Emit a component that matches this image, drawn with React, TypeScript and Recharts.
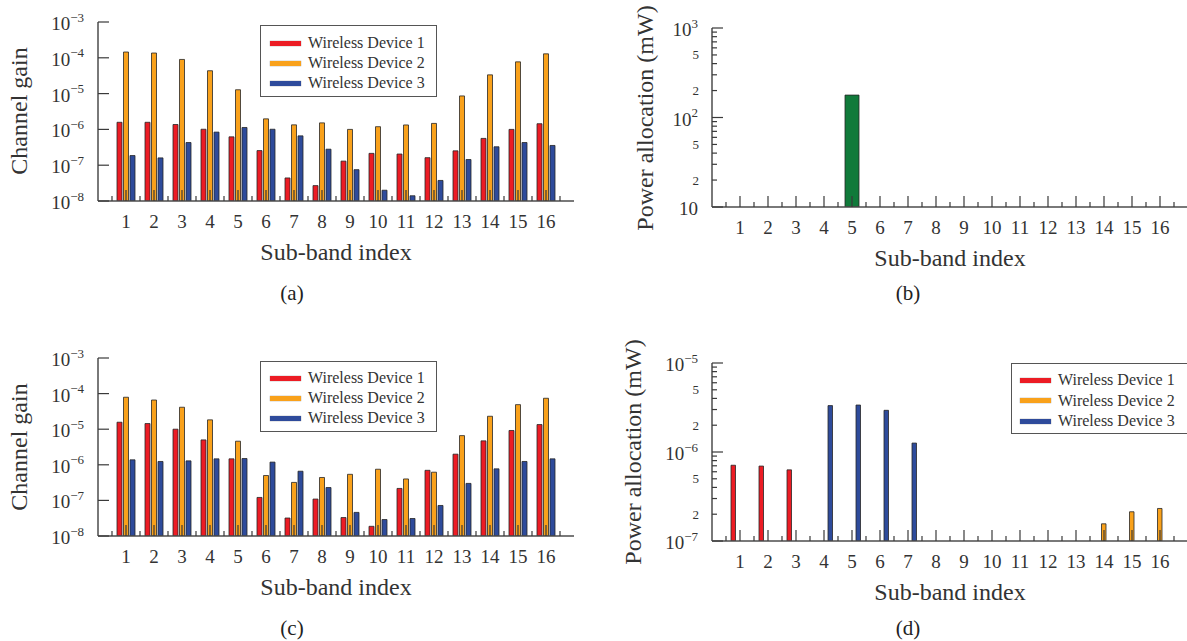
import React from 'react';
import { BarChart, Bar, XAxis, YAxis, Legend } from 'recharts';

const FONT = '"Liberation Serif", "Times New Roman", serif';
const INK = '#333333';
const AXIS = '#4d4d4d';
const TICK = '#3a3a3a';

const RED = '#ec1c24';
const ORANGE = '#f9a11b';
const BLUE = '#2e4b9b';
const GREEN = '#107a3a';

const bands = ['1', '2', '3', '4', '5', '6', '7', '8', '9', '10', '11', '12', '13', '14', '15', '16'];
const deviceNames = ['Wireless Device 1', 'Wireless Device 2', 'Wireless Device 3'];

// (a) channel gain
const gainA1 = [1.58e-6, 1.58e-6, 1.37e-6, 1.01e-6, 6.2e-7, 2.56e-7, 4.4e-8, 2.69e-8, 1.3e-7, 2.14e-7, 2.05e-7, 1.62e-7, 2.52e-7, 5.6e-7, 1.0e-6, 1.44e-6];
const gainA2 = [1.45e-4, 1.36e-4, 9.0e-5, 4.35e-5, 1.28e-5, 1.97e-6, 1.34e-6, 1.52e-6, 1.0e-6, 1.19e-6, 1.33e-6, 1.47e-6, 8.6e-6, 3.34e-5, 7.7e-5, 1.29e-4];
const gainA3 = [1.86e-7, 1.6e-7, 4.3e-7, 8.4e-7, 1.13e-6, 1.01e-6, 6.6e-7, 2.8e-7, 7.5e-8, 2.0e-8, 1.4e-8, 3.75e-8, 1.44e-7, 3.27e-7, 4.3e-7, 3.56e-7];

// (c) channel gain
const gainC1 = [1.57e-5, 1.44e-5, 1.0e-5, 5.0e-6, 1.47e-6, 1.21e-7, 3.2e-8, 1.09e-7, 3.3e-8, 1.87e-8, 2.17e-7, 7.0e-7, 1.99e-6, 4.7e-6, 9.2e-6, 1.35e-5];
const gainC2 = [7.9e-5, 6.6e-5, 4.14e-5, 1.83e-5, 4.6e-6, 5.0e-7, 3.2e-7, 4.4e-7, 5.4e-7, 7.5e-7, 4.0e-7, 6.2e-7, 6.6e-6, 2.31e-5, 4.9e-5, 7.4e-5];
const gainC3 = [1.38e-6, 1.24e-6, 1.29e-6, 1.47e-6, 1.5e-6, 1.19e-6, 6.6e-7, 2.3e-7, 4.6e-8, 2.9e-8, 3.1e-8, 7.2e-8, 3.0e-7, 7.7e-7, 1.24e-6, 1.47e-6];

// (b) power allocation (mW)
const powerB = [null, null, null, null, 178, null, null, null, null, null, null, null, null, null, null, null];

// (d) power allocation (mW)
const powerD1 = [7.1e-7, 6.95e-7, 6.3e-7, null, null, null, null, null, null, null, null, null, null, null, null, null];
const powerD2 = [null, null, null, null, null, null, null, null, null, null, null, null, null, 1.56e-7, 2.13e-7, 2.32e-7];
const powerD3 = [null, null, null, 3.32e-6, 3.37e-6, 2.94e-6, 1.26e-6, null, null, null, null, null, null, null, null, null];

const gainTicks = [1e-8, 1e-7, 1e-6, 1e-5, 1e-4, 1e-3];
const powerBTicks = [10, 20, 30, 40, 50, 60, 70, 80, 90, 100, 200, 300, 400, 500, 600, 700, 800, 900, 1000];
const powerDTicks = [1e-7, 2e-7, 3e-7, 4e-7, 5e-7, 6e-7, 7e-7, 8e-7, 9e-7, 1e-6, 2e-6, 3e-6, 4e-6, 5e-6, 6e-6, 7e-6, 8e-6, 9e-6, 1e-5];

type Series = { key: string; name: string; color: string; values: (number | null)[] };

function decompose(v: number) {
  const e = Math.floor(Math.log10(v) + 1e-9);
  const m = Math.round(v / Math.pow(10, e));
  return { e, m };
}

function xBottomTick(half: number, count: number) {
  return (p: any) => {
    const { x, y, index, payload } = p;
    return (
      <g>
        <g stroke={TICK} strokeWidth={1.2}>
          <line x1={x} x2={x} y1={y} y2={y - 11} />
          <line x1={x - half} x2={x - half} y1={y} y2={y - 5} />
          {index === count - 1 && <line x1={x + half} x2={x + half} y1={y} y2={y - 5} />}
        </g>
        <text x={x} y={y + 27} textAnchor="middle" fontFamily={FONT} fontSize={19} fill={INK}>
          {payload.value}
        </text>
      </g>
    );
  };
}

function xTopTick(half: number, count: number) {
  return (p: any) => {
    const { x, y, index } = p;
    return (
      <g stroke={TICK} strokeWidth={1.2}>
        <line x1={x} x2={x} y1={y} y2={y + 11} />
        <line x1={x - half} x2={x - half} y1={y} y2={y + 5} />
        {index === count - 1 && <line x1={x + half} x2={x + half} y1={y} y2={y + 5} />}
      </g>
    );
  };
}

function yLeftTick(minorLabels: boolean) {
  return (p: any) => {
    const { x, y, payload } = p;
    const { e, m } = decompose(payload.value as number);
    const major = m === 1;
    let label: React.ReactNode = null;
    if (major) {
      label = (
        <text x={x - 14} y={y + 8} textAnchor="end" fontFamily={FONT} fontSize={19} fill={INK}>
          10
          {e !== 1 && (
            <tspan dy={-8.5} fontSize={13}>
              {e < 0 ? '\u2212' + -e : String(e)}
            </tspan>
          )}
        </text>
      );
    } else if (minorLabels && (m === 2 || m === 5)) {
      label = (
        <text x={x - 13} y={y + 4.5} textAnchor="end" fontFamily={FONT} fontSize={13} fill={INK}>
          {m}
        </text>
      );
    }
    return (
      <g>
        <line x1={x} x2={x + (major ? 11 : 5)} y1={y} y2={y} stroke={TICK} strokeWidth={1.2} />
        {label}
      </g>
    );
  };
}

function yRightTick() {
  return (p: any) => {
    const { x, y, payload } = p;
    const { m } = decompose(payload.value as number);
    const major = m === 1;
    return <line x1={x} x2={x - (major ? 11 : 4)} y1={y} y2={y} stroke={TICK} strokeWidth={1.2} />;
  };
}

type LegendBoxSpec = { left: number; top: number; w: number; h: number; sx: number; y0: number; dy: number };

function LegendBox({ payload, box, series }: { payload: any[]; box: LegendBoxSpec; series: Series[] }) {
  const items = payload && payload.length ? payload : series.map((s) => ({ value: s.name, color: s.color }));
  return (
    <div
      style={{
        width: box.w,
        height: box.h,
        border: '1.5px solid #555',
        background: '#fff',
        boxSizing: 'border-box',
        position: 'relative',
      }}
    >
      {items.map((e: any, i: number) => (
        <div
          key={i}
          style={{
            position: 'absolute',
            left: box.sx,
            top: box.y0 + i * box.dy - 12,
            height: 24,
            display: 'flex',
            alignItems: 'center',
            whiteSpace: 'nowrap',
          }}
        >
          <div style={{ width: 31, height: 5, background: e.color || series[i].color, boxShadow: '0 0 1px #777' }} />
          <span style={{ marginLeft: 7, fontFamily: FONT, fontSize: 16, color: INK, lineHeight: '24px' }}>{e.value}</span>
        </div>
      ))}
    </div>
  );
}

type PanelProps = {
  left: number;
  top: number;
  mt: number;
  mr: number;
  yw: number;
  xh: number;
  domain: [number, number];
  ticks: number[];
  minorLabels: boolean;
  series: Series[];
  barSize: number;
  barGap: number;
  legendBox?: LegendBoxSpec;
};

const W = 600;
const H = 300;

function Panel(props: PanelProps) {
  const { left, top, mt, mr, yw, xh, domain, ticks, minorLabels, series, barSize, barGap, legendBox } = props;
  const data = bands.map((b, i) => {
    const row: any = { band: b };
    series.forEach((s) => {
      row[s.key] = s.values[i];
    });
    return row;
  });
  const plotW = W - mr - yw;
  const pad = plotW / (bands.length + 1) / 2;
  const half = pad;
  return (
    <div style={{ position: 'absolute', left, top, width: W, height: H }}>
      <BarChart width={W} height={H} data={data} margin={{ top: mt, right: mr, bottom: 0, left: 0 }} barGap={barGap}>
        <XAxis
          dataKey="band"
          type="category"
          height={xh}
          padding={{ left: pad, right: pad }}
          axisLine={{ stroke: AXIS, strokeWidth: 1.5 }}
          tickLine={false}
          tickSize={0}
          tickMargin={0}
          interval={0}
          tick={xBottomTick(half, bands.length)}
        />
        <XAxis
          xAxisId="top"
          orientation="top"
          dataKey="band"
          type="category"
          height={0}
          padding={{ left: pad, right: pad }}
          axisLine={{ stroke: AXIS, strokeWidth: 1.5 }}
          tickLine={false}
          tickSize={0}
          tickMargin={0}
          interval={0}
          tick={xTopTick(half, bands.length)}
        />
        <YAxis
          type="number"
          scale="log"
          domain={domain}
          allowDataOverflow
          ticks={ticks}
          width={yw}
          axisLine={{ stroke: AXIS, strokeWidth: 1.5 }}
          tickLine={false}
          tickSize={0}
          tickMargin={0}
          interval={0}
          tick={yLeftTick(minorLabels)}
        />
        <YAxis
          yAxisId="r"
          orientation="right"
          type="number"
          scale="log"
          domain={domain}
          allowDataOverflow
          ticks={ticks}
          width={0}
          axisLine={{ stroke: AXIS, strokeWidth: 1.5 }}
          tickLine={false}
          tickSize={0}
          tickMargin={0}
          interval={0}
          tick={yRightTick()}
        />
        {series.map((s) => (
          <Bar
            key={s.key}
            dataKey={s.key}
            name={s.name}
            fill={s.color}
            stroke="#262626"
            strokeWidth={0.8}
            barSize={barSize}
            isAnimationActive={false}
          />
        ))}
        {legendBox && (
          <Legend
            layout="vertical"
            align="center"
            verticalAlign="middle"
            wrapperStyle={{ position: 'absolute', left: legendBox.left, top: legendBox.top, width: legendBox.w, height: legendBox.h }}
            content={(p: any) => <LegendBox payload={p.payload} box={legendBox} series={series} />}
          />
        )}
      </BarChart>
    </div>
  );
}

function Txt({ x, y, size, children, rotate, color }: { x: number; y: number; size: number; children: React.ReactNode; rotate?: boolean; color?: string }) {
  return (
    <div
      style={{
        position: 'absolute',
        left: x,
        top: y,
        transform: `translate(-50%, -50%)${rotate ? ' rotate(-90deg)' : ''}`,
        fontFamily: FONT,
        fontSize: size,
        color: color || INK,
        whiteSpace: 'nowrap',
        lineHeight: 1,
      }}
    >
      {children}
    </div>
  );
}

const devSeries = (a: (number | null)[], b: (number | null)[], c: (number | null)[]): Series[] => [
  { key: 'd1', name: deviceNames[0], color: RED, values: a },
  { key: 'd2', name: deviceNames[1], color: ORANGE, values: b },
  { key: 'd3', name: deviceNames[2], color: BLUE, values: c },
];

export default function App() {
  return (
    <div style={{ position: 'absolute', left: 0, top: 0, width: 1187, height: 641, overflow: 'hidden', background: '#fff' }}>
      <Panel
        left={0}
        top={0}
        mt={22}
        mr={26}
        yw={98}
        xh={99}
        domain={[1e-8, 1e-3]}
        ticks={gainTicks}
        minorLabels={false}
        series={devSeries(gainA1, gainA2, gainA3)}
        barSize={5}
        barGap={1.5}
        legendBox={{ left: 260, top: 25, w: 177, h: 72, sx: 9, y0: 17, dy: 20 }}
      />
      <Panel
        left={600}
        top={0}
        mt={28}
        mr={12}
        yw={112}
        xh={93}
        domain={[10, 1000]}
        ticks={powerBTicks}
        minorLabels
        series={[{ key: 'p', name: 'Power', color: GREEN, values: powerB }]}
        barSize={14}
        barGap={2}
      />
      <Panel
        left={0}
        top={336}
        mt={22}
        mr={26}
        yw={98}
        xh={100}
        domain={[1e-8, 1e-3]}
        ticks={gainTicks}
        minorLabels={false}
        series={devSeries(gainC1, gainC2, gainC3)}
        barSize={5}
        barGap={1.5}
        legendBox={{ left: 260, top: 25, w: 177, h: 71, sx: 9, y0: 16, dy: 20 }}
      />
      <Panel
        left={600}
        top={336}
        mt={27}
        mr={12}
        yw={112}
        xh={95}
        domain={[1e-7, 1e-5]}
        ticks={powerDTicks}
        minorLabels
        series={devSeries(powerD1, powerD2, powerD3)}
        barSize={4.5}
        barGap={2}
        legendBox={{ left: 411, top: 27, w: 182, h: 71, sx: 8, y0: 16, dy: 20.5 }}
      />

      <Txt x={19} y={111} size={24} rotate>Channel gain</Txt>
      <Txt x={19} y={447} size={24} rotate>Channel gain</Txt>
      <Txt x={645} y={118} size={24} rotate>Power allocation (mW)</Txt>
      <Txt x={633} y={452} size={24} rotate>Power allocation (mW)</Txt>

      <Txt x={336} y={252} size={24}>Sub-band index</Txt>
      <Txt x={950} y={258} size={24}>Sub-band index</Txt>
      <Txt x={336} y={587} size={24}>Sub-band index</Txt>
      <Txt x={950} y={592} size={24}>Sub-band index</Txt>

      <Txt x={292} y={293} size={21} color="#222">(a)</Txt>
      <Txt x={908} y={293} size={21} color="#222">(b)</Txt>
      <Txt x={292} y={628} size={21} color="#222">(c)</Txt>
      <Txt x={908} y={628} size={21} color="#222">(d)</Txt>
    </div>
  );
}
